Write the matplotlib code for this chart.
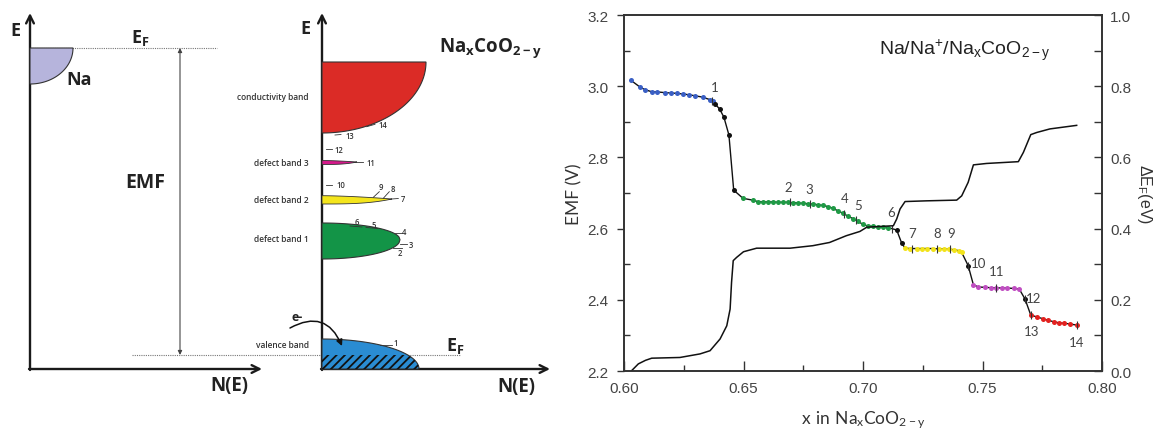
import numpy as np
import matplotlib.pyplot as plt
from matplotlib.patches import Polygon

plt.rcParams['hatch.linewidth'] = 1.3

# ---------------- EMF titration data ---------------- #
x_blue = [0.6028, 0.6068, 0.6089, 0.6118, 0.6138, 0.6170, 0.6195, 0.6220,
          0.6248, 0.6271, 0.6298, 0.6331, 0.6360, 0.6374]
emf_blue = [3.017, 2.997, 2.990, 2.984, 2.984, 2.982, 2.981, 2.980,
            2.978, 2.976, 2.973, 2.969, 2.962, 2.958]

x_black1 = [0.6380, 0.6400, 0.6418, 0.6439, 0.6459]
emf_black1 = [2.951, 2.936, 2.913, 2.863, 2.708]

x_green = [0.6498, 0.6538, 0.6559, 0.6580, 0.6601, 0.6622, 0.6643, 0.6664,
           0.6685, 0.6706, 0.6727, 0.6748, 0.6769, 0.6790, 0.6811, 0.6832,
           0.6853, 0.6874, 0.6895, 0.6916, 0.6937, 0.6958, 0.6979, 0.7000,
           0.7021, 0.7042, 0.7063, 0.7084, 0.7105]
emf_green = [2.685, 2.680, 2.676, 2.675, 2.675, 2.675, 2.674, 2.674,
             2.674, 2.673, 2.672, 2.671, 2.670, 2.669, 2.667, 2.665,
             2.662, 2.657, 2.650, 2.643, 2.635, 2.628, 2.620, 2.612,
             2.607, 2.606, 2.605, 2.604, 2.603]

x_black2 = [0.7141, 0.7162]
emf_black2 = [2.596, 2.559]

x_yellow = [0.7176, 0.7197, 0.7225, 0.7246, 0.7267, 0.7292, 0.7316, 0.7337,
            0.7358, 0.7379, 0.7400, 0.7413]
emf_yellow = [2.545, 2.544, 2.544, 2.544, 2.544, 2.544, 2.543, 2.543,
              2.542, 2.541, 2.538, 2.533]

x_black3 = [0.7440]
emf_black3 = [2.496]

x_magenta = [0.7462, 0.7483, 0.7510, 0.7534, 0.7556, 0.7580, 0.7601, 0.7632, 0.7654]
emf_magenta = [2.442, 2.436, 2.435, 2.434, 2.434, 2.433, 2.433, 2.432, 2.430]

x_black4 = [0.7678]
emf_black4 = [2.402]

x_red = [0.7702, 0.7727, 0.7752, 0.7776, 0.7801, 0.7822, 0.7843, 0.7866, 0.7894]
emf_red = [2.357, 2.352, 2.347, 2.342, 2.338, 2.335, 2.334, 2.332, 2.329]

# Fermi level shift
x_def = [0.6032, 0.6060, 0.6090, 0.6116, 0.6234, 0.6318, 0.6360, 0.6402,
         0.6430, 0.6444, 0.6450, 0.6457, 0.6471, 0.6500, 0.6555, 0.6695,
         0.6790, 0.6860, 0.6930, 0.6987, 0.7016, 0.7071, 0.7127, 0.7141,
         0.7155, 0.7176, 0.7266, 0.7392, 0.7413, 0.7440, 0.7462, 0.7517,
         0.7650, 0.7671, 0.7702, 0.7727, 0.7782, 0.7838, 0.7894]
def_vals = [0.001, 0.020, 0.030, 0.036, 0.038, 0.048, 0.057, 0.090,
            0.127, 0.174, 0.249, 0.310, 0.319, 0.335, 0.345, 0.345,
            0.352, 0.361, 0.380, 0.392, 0.404, 0.406, 0.408, 0.427,
            0.455, 0.476, 0.478, 0.480, 0.492, 0.530, 0.579, 0.583,
            0.588, 0.614, 0.664, 0.670, 0.680, 0.685, 0.690]

# numbered points: marker x, label x, label y
mark_x = [0.6370, 0.6695, 0.6778, 0.6920, 0.6970, 0.7120, 0.7204, 0.7311,
          0.7364, 0.7440, 0.7556, 0.7678, 0.7702, 0.7894]
lab_x = [0.6378, 0.6687, 0.6775, 0.6922, 0.6980, 0.7116, 0.7204, 0.7311,
         0.7367, 0.7485, 0.7559, 0.7715, 0.7706, 0.7894]
lab_y = [2.997, 2.718, 2.711, 2.686, 2.666, 2.646, 2.588, 2.588,
         2.588, 2.503, 2.480, 2.404, 2.313, 2.282]

# ---------------- band diagram (pixel units) ---------------- #
ax1_x = 30            # Na axis
ax2_x = 322           # Na_xCoO2-y axis
axis_bottom = 370
ef_na = 49
ef_cathode = 356

band_names = ['conductivity band', 'defect band 3', 'defect band 2',
              'defect band 1', 'valence band']
band_name_y = [98, 164, 201, 240, 346]

# (line x1, y1, x2, y2, label, text x, text y)
band_marks = [
    (380, 345.7, 391.7, 345.7, '1', 395.7, 343.3),
    (393.3, 249, 401.7, 249, '2', 400, 253.5),
    (400, 245, 406.7, 245, '3', 410.7, 245.7),
    (395, 234.3, 401.7, 234.3, '4', 404.5, 233),
    (366, 228.5, 378, 229.5, '5', 373.3, 225.3),
    (350, 227, 362, 228, '6', 356.7, 223),
    (391.7, 200, 398.3, 199.5, '7', 403.3, 200),
    (383.3, 199.3, 389.3, 192.7, '8', 393.3, 190),
    (373.3, 198.3, 379.3, 192.7, '9', 381, 187.3),
    (326, 185.7, 331.7, 185.7, '10', 341.3, 186),
    (356, 163, 363.3, 163, '11', 371, 163.7),
    (326, 150, 331.7, 150, '12', 339, 150.3),
    (335, 136, 341, 135.5, '13', 349.5, 137),
    (366.7, 127.7, 375, 125.3, '14', 382.5, 126),
]


def quarter(cx, cy, a, b, sign_y=1, n=60):
    t = np.linspace(0, np.pi / 2, n)
    return cx + a * np.cos(t), cy + sign_y * b * np.sin(t)


def spike(x0, y_top, y_tip, y_bot, x_tip, n=60):
    u = np.linspace(0, 1, n)
    xs = x0 + (x_tip - x0) * u
    top = y_top + (y_tip - y_top) * u ** 1.6
    bot = y_bot + (y_tip - y_bot) * u ** 3
    return np.r_[xs, xs[::-1]], np.r_[top, bot[::-1]]


def lens(x0, y_top, y_tip, y_bot, x_tip, n=80):
    u = np.linspace(0, 1, n)
    xs = x0 + (x_tip - x0) * u
    top = y_tip - (y_tip - y_top) * np.sqrt(1 - u ** 2)
    bot = y_tip + (y_bot - y_tip) * np.sqrt(1 - u ** 2)
    return np.r_[xs, xs[::-1]], np.r_[top, bot[::-1]]


def sub_text(ax, x, y, main, sub, size, **kw):
    ax.text(x, y, r'$\mathregular{%s_{%s}}$' % (main, sub), fontsize=size, **kw)


fig = plt.figure(figsize=(11.62, 4.39), dpi=100)

axL = fig.add_axes([0, 0, 580 / 1162, 1])
axL.set_xlim(0, 580)
axL.set_ylim(439, 0)
axL.axis('off')

bold = dict(family=['Open Sans', 'DejaVu Sans'], fontweight='bold', color='#222222')
small = dict(family=['Open Sans', 'DejaVu Sans'], fontweight='semibold', color='#333333')

# axes with arrows
for x0, x_end in [(ax1_x, 262), (ax2_x, 550)]:
    axL.annotate('', xy=(x0, 14), xytext=(x0, axis_bottom + 1),
                 arrowprops=dict(arrowstyle='->', lw=1.7, color='#1a1a1a',
                                 mutation_scale=14, shrinkA=0, shrinkB=0))
    axL.annotate('', xy=(x_end, axis_bottom), xytext=(x0 - 1, axis_bottom),
                 arrowprops=dict(arrowstyle='->', lw=1.7, color='#1a1a1a',
                                 mutation_scale=14, shrinkA=0, shrinkB=0))

# Fermi levels
axL.plot([ax1_x, 217], [ef_na, ef_na], ls=(0, (1, 1)), lw=0.8, color='#777777')
axL.plot([132, 460], [ef_cathode, ef_cathode], ls=(0, (1, 1)), lw=0.8, color='#777777')
axL.annotate('', xy=(180, ef_cathode), xytext=(180, ef_na),
             arrowprops=dict(arrowstyle='<|-|>', lw=0.8, color='#444444',
                             mutation_scale=6, shrinkA=0, shrinkB=0))

# Na metal band
qx, qy = quarter(ax1_x, ef_na, 43, 36)
axL.add_patch(Polygon(np.c_[np.r_[ax1_x, qx], np.r_[ef_na, qy]], closed=True,
                      fc='#b6b4dc', ec='#333333', lw=0.8, zorder=3))

# conduction band
qx, qy = quarter(ax2_x, 63, 104, 71)
axL.add_patch(Polygon(np.c_[np.r_[ax2_x, qx], np.r_[63, qy]], closed=True,
                      fc='#db2b26', ec='#333333', lw=0.8, zorder=3))

# defect bands
sx, sy = spike(ax2_x, 161.5, 163, 165.5, 357)
axL.add_patch(Polygon(np.c_[sx, sy], closed=True, fc='#d4198a', ec='#333333', lw=0.6, zorder=3))
sx, sy = spike(ax2_x, 196.7, 200, 205, 392)
axL.add_patch(Polygon(np.c_[sx, sy], closed=True, fc='#f4e51c', ec='#333333', lw=0.6, zorder=3))
sx, sy = lens(ax2_x, 224, 240.7, 260, 400)
axL.add_patch(Polygon(np.c_[sx, sy], closed=True, fc='#139447', ec='#333333', lw=0.8, zorder=3))

# valence band, filled part hatched below the Fermi level
qx, qy = quarter(ax2_x, axis_bottom, 97, 30, sign_y=-1)
axL.add_patch(Polygon(np.c_[np.r_[ax2_x, qx], np.r_[axis_bottom, qy]], closed=True,
                      fc='#2a8cd2', ec='#333333', lw=0.8, zorder=3))
t_cut = np.arcsin((axis_bottom - ef_cathode) / 30)
t = np.linspace(t_cut, 0, 40)
hx = np.r_[ax2_x, ax2_x + 97 * np.cos(t), ax2_x]
hy = np.r_[ef_cathode, axis_bottom - 30 * np.sin(t), axis_bottom]
axL.add_patch(Polygon(np.c_[hx, hy], closed=True, fc='none', ec='#111111',
                      lw=0, hatch='////', zorder=4))

# electron transfer arrow
axL.annotate('', xy=(342, 347), xytext=(290, 329),
             arrowprops=dict(arrowstyle='-|>', lw=1.1, color='#111111',
                             connectionstyle='arc3,rad=-0.55', mutation_scale=9,
                             shrinkA=0, shrinkB=0), zorder=5)
axL.text(297, 318, 'e-', fontsize=9, ha='center', va='center', **bold)

for name, y in zip(band_names, band_name_y):
    axL.text(309, y, name, fontsize=6, ha='right', va='center', **small)

for x1, y1, x2, y2, lab, tx, ty in band_marks:
    axL.plot([x1, x2], [y1, y2], color='#333333', lw=0.6, zorder=5)
    axL.text(tx, ty, lab, fontsize=5.5, ha='center', va='center', zorder=5, **small)

axL.text(15, 31, 'E', fontsize=13, ha='center', va='center', **bold)
axL.text(305, 29, 'E', fontsize=13, ha='center', va='center', **bold)
sub_text(axL, 140, 38, 'E', 'F', 13, ha='center', va='center', **bold)
sub_text(axL, 455, 346, 'E', 'F', 13, ha='center', va='center', **bold)
axL.text(66, 80, 'Na', fontsize=13, ha='left', va='center', **bold)
axL.text(145, 183, 'EMF', fontsize=14, ha='center', va='center', **bold)
axL.text(229, 386, 'N(E)', fontsize=13.5, ha='center', va='center', **bold)
axL.text(516, 387, 'N(E)', fontsize=13.5, ha='center', va='center', **bold)
axL.text(439, 48, r'$\mathregular{Na_{x}CoO_{2-y}}$', fontsize=13.5,
         ha='left', va='center', **bold)

# ---------------- EMF plot ---------------- #
ax = fig.add_axes([624 / 1162, 1 - 372 / 439, 478 / 1162, 356 / 439])
ax2 = ax.twinx()

x_all = np.r_[x_blue, x_black1, x_green, x_black2, x_yellow,
              x_black3, x_magenta, x_black4, x_red]
emf_all = np.r_[emf_blue, emf_black1, emf_green, emf_black2, emf_yellow,
                emf_black3, emf_magenta, emf_black4, emf_red]
ax.plot(x_all, emf_all, color='#111111', lw=1.0, zorder=2)

groups = [(x_blue, emf_blue, '#3a5fc4'), (x_black1, emf_black1, '#111111'),
          (x_green, emf_green, '#1f9a45'), (x_black2, emf_black2, '#111111'),
          (x_yellow, emf_yellow, '#f2e31a'), (x_black3, emf_black3, '#111111'),
          (x_magenta, emf_magenta, '#c04ec2'), (x_black4, emf_black4, '#111111'),
          (x_red, emf_red, '#e3211f')]
for gx, gy, c in groups:
    ax.plot(gx, gy, 'o', color=c, ms=3.6, mec='none', zorder=3)

mark_y = np.interp(mark_x, x_all, emf_all)
ax.plot(mark_x, mark_y, '|', color='#333333', ms=6, mew=0.8, zorder=4)

lab_font = dict(family=['Lato', 'DejaVu Sans'], fontsize=9.5, color='#444444')
for i, (lx, ly) in enumerate(zip(lab_x, lab_y)):
    ax.text(lx, ly, str(i + 1), ha='center', va='center', **lab_font)

ax2.plot(x_def, def_vals, color='#111111', lw=1.1)

ax.set_xlim(0.60, 0.80)
ax.set_ylim(2.2, 3.2)
ax2.set_ylim(0.0, 1.0)

tick_font = dict(family=['Liberation Sans', 'DejaVu Sans'], size=11)
ax.set_xticks(np.arange(0.60, 0.801, 0.05))
ax.set_xticks(np.arange(0.625, 0.80, 0.05), minor=True)
ax.set_xticklabels(['%.2f' % v for v in np.arange(0.60, 0.801, 0.05)], fontdict=tick_font)
ax.set_yticks(np.arange(2.2, 3.201, 0.2))
ax.set_yticks(np.arange(2.3, 3.2, 0.2), minor=True)
ax.set_yticklabels(['%.1f' % v for v in np.arange(2.2, 3.201, 0.2)], fontdict=tick_font)
ax2.set_yticks(np.arange(0.0, 1.001, 0.2))
ax2.set_yticks(np.arange(0.1, 1.0, 0.2), minor=True)
ax2.set_yticklabels(['%.1f' % v for v in np.arange(0.0, 1.001, 0.2)], fontdict=tick_font)

ax.tick_params(axis='y', which='major', direction='out', length=5, width=1, colors='#333333',
               labelcolor='#444444', pad=6)
ax.tick_params(axis='y', which='minor', direction='in', length=4, width=1, colors='#333333')
ax.tick_params(axis='x', which='major', direction='in', length=7, width=1, colors='#333333',
               labelcolor='#444444', pad=7, top=False)
ax.tick_params(axis='x', which='minor', direction='in', length=4, width=1, colors='#333333',
               top=False)
ax2.tick_params(axis='y', which='both', direction='in', length=6, width=1, colors='#333333',
                labelcolor='#444444', pad=6)

for a in (ax, ax2):
    for s in a.spines.values():
        s.set_linewidth(1.2)
        s.set_color('#333333')

ax.set_ylabel('EMF (V)', family=['Lato', 'DejaVu Sans'], fontsize=12.5, color='#333333',
              labelpad=4)
ax.set_xlabel(r'$\mathregular{x\ in\ Na_{x}CoO_{2-y}}$', family=['Lato', 'DejaVu Sans'],
              fontsize=12.5, color='#333333', labelpad=10)
ax2.set_ylabel(r'$\mathregular{\Delta E_{F}(eV)}$', family=['Liberation Sans', 'DejaVu Sans'],
               fontsize=11.5, color='#333333', rotation=270, labelpad=16)

ax.text(0.713, 0.905, r'$\mathregular{Na/Na^{+}/Na_{x}CoO_{2-y}}$', transform=ax.transAxes,
        family=['Liberation Sans', 'DejaVu Sans'], fontsize=14, color='#222222',
        ha='center', va='center')

fig.savefig('out.png', dpi=100)
